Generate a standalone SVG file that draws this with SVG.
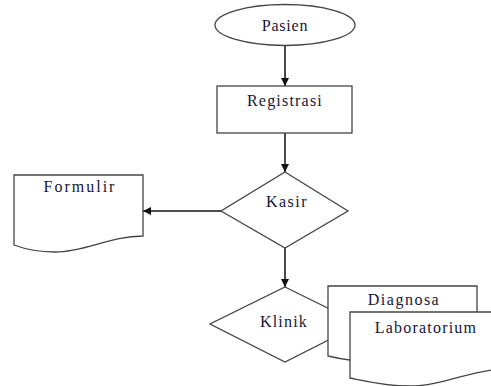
<svg xmlns="http://www.w3.org/2000/svg" width="491" height="386" viewBox="0 0 491 386">
<style>
.s{fill:#fff;stroke:#444;stroke-width:1.3}
.c{fill:none;stroke:#111;stroke-width:1.5}
text{font-family:'Liberation Serif','Times New Roman',Times,serif;font-size:16px;fill:#15153a;text-anchor:middle}
</style>
<defs>
<marker id="ah" viewBox="0 0 10 10" refX="10" refY="5" markerWidth="8" markerHeight="8" markerUnits="userSpaceOnUse" orient="auto">
<path d="M0,0 L10,5 L0,10 Z" fill="#111"/>
</marker>
</defs>
<rect width="491" height="386" fill="#fff"/>
<g id="connectors">
<line class="c" x1="285" y1="45" x2="285" y2="86" marker-end="url(#ah)"/>
<line class="c" x1="285" y1="133" x2="285" y2="172" marker-end="url(#ah)"/>
<line class="c" x1="221" y1="211" x2="143" y2="211" marker-end="url(#ah)"/>
<line class="c" x1="285" y1="248" x2="285" y2="287" marker-end="url(#ah)"/>
</g>
<g id="pasien">
<ellipse class="s" cx="285" cy="25" rx="70" ry="20.5"/>
<text x="285" y="31" font-family="Liberation Serif, serif" letter-spacing="0.8">Pasien</text>
</g>
<g id="registrasi">
<rect class="s" x="217" y="86" width="135" height="47"/>
<text x="285" y="106" font-family="Liberation Serif, serif" letter-spacing="1.2">Registrasi</text>
</g>
<g id="kasir">
<path class="s" d="M285,172 L348,211 L285,248 L221,211 Z"/>
<text x="287" y="207" font-family="Liberation Serif, serif" letter-spacing="1.5">Kasir</text>
</g>
<g id="formulir">
<path class="s" d="M14,175 L143,175 L143,236 C110,236 85,252 55,252 C35,252 22,248 14,245 Z"/>
<text x="80" y="192" font-family="Liberation Serif, serif" letter-spacing="2">Formulir</text>
</g>
<g id="klinik">
<path class="s" d="M285,287 L360,324 L285,362 L210,324 Z"/>
<text x="284" y="327" font-family="Liberation Serif, serif" letter-spacing="1.2">Klinik</text>
</g>
<g id="diagnosa">
<path class="s" d="M328,286 L477,286 L477,340 C440,345 420,362 380,362 C360,362 340,359 328,356 Z"/>
<text x="404" y="305" font-family="Liberation Serif, serif" letter-spacing="1.5">Diagnosa</text>
</g>
<g id="laboratorium">
<path class="s" d="M350,312 L500,312 L500,369 C470,371 440,386 410,386 C385,386 365,381 350,378 Z"/>
<text x="426" y="333" font-family="Liberation Serif, serif" letter-spacing="1.2">Laboratorium</text>
</g>
</svg>
